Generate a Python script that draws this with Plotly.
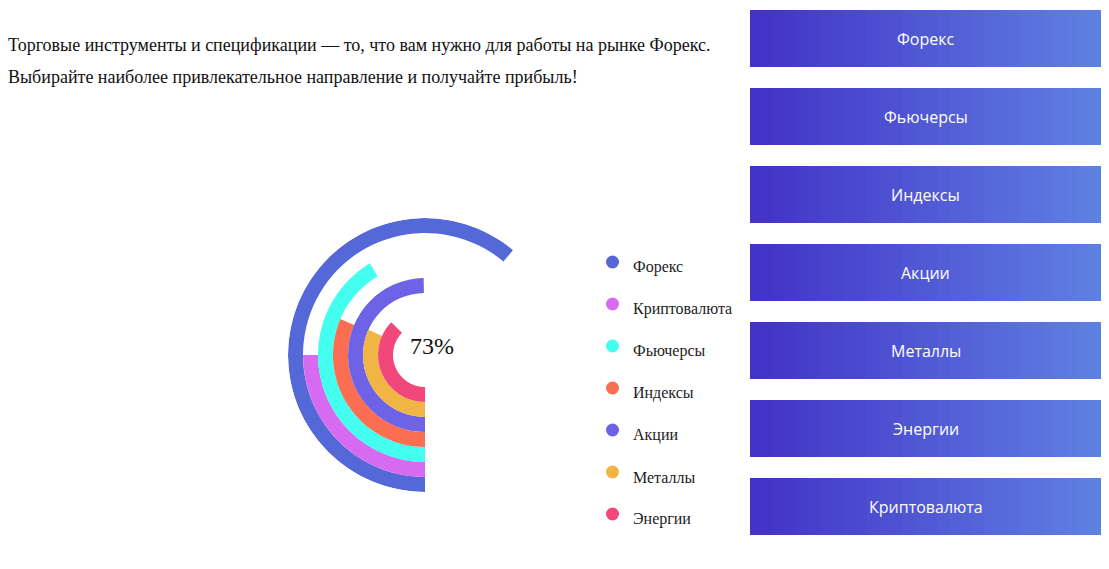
import plotly.graph_objects as go

W, H = 1109, 569
OFF = 8  # page body margin

categories = ["Форекс", "Криптовалюта", "Фьючерсы", "Индексы", "Акции", "Металлы", "Энергии"]
spans = [220, 90, 149, 113, 179, 114, 134]  # degrees, clockwise from bottom
colors = ["#5468d8", "#d66af0", "#44fff0", "#fc6e52", "#6e63e6", "#f0b545", "#f2477a"]
buttons = ["Форекс", "Фьючерсы", "Индексы", "Акции", "Металлы", "Энергии", "Криптовалюта"]
center_label = "73%"

ring = 15
inner = 32
cx, cy, R = 425, 355, 137


def px(x):
    return (x - OFF) / W


def py(y):
    return 1 - (y - OFF) / H


fig = go.Figure()
n = len(categories)
for i, (name, span, col) in enumerate(zip(categories, spans, colors)):
    base = inner + ring * (n - 1 - i)
    fig.add_trace(go.Barpolar(r=[ring], base=[base], theta=[span / 2], width=[span],
                              marker=dict(color=col, line=dict(width=0)),
                              name=name, showlegend=False, hoverinfo="skip"))

fig.update_layout(
    width=W, height=H, margin=dict(l=0, r=0, t=0, b=0),
    paper_bgcolor="white", plot_bgcolor="white",
    polar=dict(
        domain=dict(x=[px(cx - R), px(cx + R)], y=[py(cy + R), py(cy - R)]),
        bgcolor="rgba(0,0,0,0)",
        radialaxis=dict(range=[0, R], visible=False),
        angularaxis=dict(rotation=270, direction="clockwise", visible=False),
        bargap=0,
    ),
)

shapes = []
annotations = []

# legend
for i, (name, col) in enumerate(zip(categories, colors)):
    y = 262 + 42 * i
    shapes.append(dict(type="circle", xref="paper", yref="paper",
                       x0=px(606), x1=px(619), y0=py(y + 6.5), y1=py(y - 6.5),
                       fillcolor=col, line=dict(width=0)))
    annotations.append(dict(x=px(631), y=py(y + 5), xref="paper", yref="paper", text=name,
                            showarrow=False, xanchor="left", yanchor="middle",
                            font=dict(family="Liberation Serif", size=16, color="#222")))

# buttons with approximated gradient
steps = 30
bx0, bx1 = 750, 1101
c0, c1 = (0x43, 0x33, 0xc6), (0x5f, 0x80, 0xe3)
for j, label in enumerate(buttons):
    y0 = 10 + 78 * j
    y1 = y0 + 57
    for k in range(steps):
        t = k / (steps - 1)
        c = tuple(int(a + (b - a) * t) for a, b in zip(c0, c1))
        shapes.append(dict(type="rect", xref="paper", yref="paper",
                           x0=px(bx0 + (bx1 - bx0) * k / steps),
                           x1=px(min(bx1, bx0 + (bx1 - bx0) * (k + 1) / steps + 1.5)),
                           y0=py(y1), y1=py(y0),
                           fillcolor="rgb(%d,%d,%d)" % c, line=dict(width=0)))
    annotations.append(dict(x=px((bx0 + bx1) / 2), y=py((y0 + y1) / 2), xref="paper", yref="paper",
                            text=label, showarrow=False, xanchor="center", yanchor="middle",
                            font=dict(family="Open Sans", size=16, color="white")))

annotations += [
    dict(x=px(6), y=py(45), xref="paper", yref="paper", xanchor="left", yanchor="middle",
         showarrow=False, text="Торговые инструменты и спецификации — то, что вам нужно для работы на рынке Форекс.",
         font=dict(family="Liberation Serif", size=18, color="#111")),
    dict(x=px(6), y=py(77), xref="paper", yref="paper", xanchor="left", yanchor="middle",
         showarrow=False, text="Выбирайте наиболее привлекательное направление и получайте прибыль!",
         font=dict(family="Liberation Serif", size=18, color="#111")),
    dict(x=px(432), y=py(346), xref="paper", yref="paper", showarrow=False, text=center_label,
         xanchor="center", yanchor="middle",
         font=dict(family="Liberation Serif", size=24, color="#111")),
]

fig.update_layout(shapes=shapes, annotations=annotations)
fig.write_html("out.html")
